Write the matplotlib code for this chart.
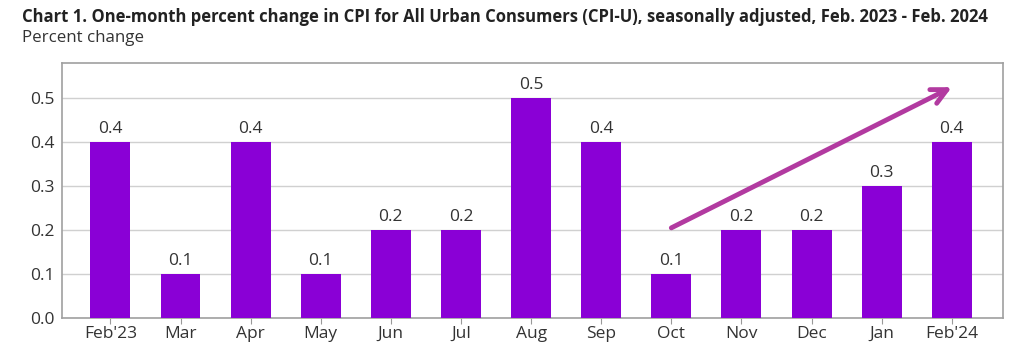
import matplotlib.pyplot as plt
import numpy as np

months = ["Feb'23", "Mar", "Apr", "May", "Jun", "Jul", "Aug", "Sep", "Oct", "Nov", "Dec", "Jan", "Feb'24"]
pct_change = [0.4, 0.1, 0.4, 0.1, 0.2, 0.2, 0.5, 0.4, 0.1, 0.2, 0.2, 0.3, 0.4]
arrow_start = (8.0, 0.205)
arrow_end = (12.0, 0.525)

plt.rcParams['font.family'] = ['Open Sans', 'DejaVu Sans']

fig = plt.figure(figsize=(10.24, 3.53), dpi=100)
ax = fig.add_axes([62 / 1024, 1 - 318 / 353, (1003 - 62) / 1024, (318 - 63) / 353])

x = np.arange(len(months))
ax.bar(x, pct_change, width=0.57, color="#8a00d6", zorder=3)
for xi, v in zip(x, pct_change):
    ax.text(xi, v + 0.012, f"{v:.1f}", ha="center", va="bottom", fontsize=12.5, color="#333333")

ax.set_xlim(-0.69, 12.73)
ax.set_ylim(0, 0.58)
ax.set_yticks([0, 0.1, 0.2, 0.3, 0.4, 0.5])
ax.set_yticklabels(["0.0", "0.1", "0.2", "0.3", "0.4", "0.5"])
ax.set_xticks(x)
ax.set_xticklabels(months)
ax.tick_params(axis="both", labelsize=12.5, colors="#333333", length=0, pad=5)
ax.tick_params(axis="x", length=4, color="#999999", pad=2)
ax.grid(axis="y", color="#d0d0d0", linewidth=1, zorder=0)
for s in ax.spines.values():
    s.set_color("#a0a0a0")
    s.set_linewidth(1.2)

# open chevron arrow head like the reference
ax.annotate("", xy=arrow_end, xytext=arrow_start,
            arrowprops=dict(arrowstyle="->,head_length=1.1,head_width=0.55", color="#b23aa0",
                            linewidth=3.5, shrinkA=0, shrinkB=0),
            zorder=5)

fig.text(22 / 1024, 1 - 17 / 353, "Chart 1. One-month percent change in CPI for All Urban Consumers (CPI-U), seasonally adjusted, Feb. 2023 - Feb. 2024",
         fontsize=12, fontweight="bold", color="#222222", va="center", ha="left")
fig.text(22 / 1024, 1 - 38 / 353, "Percent change", fontsize=12.2, color="#333333", va="center", ha="left")

fig.savefig("out.png", dpi=100)
